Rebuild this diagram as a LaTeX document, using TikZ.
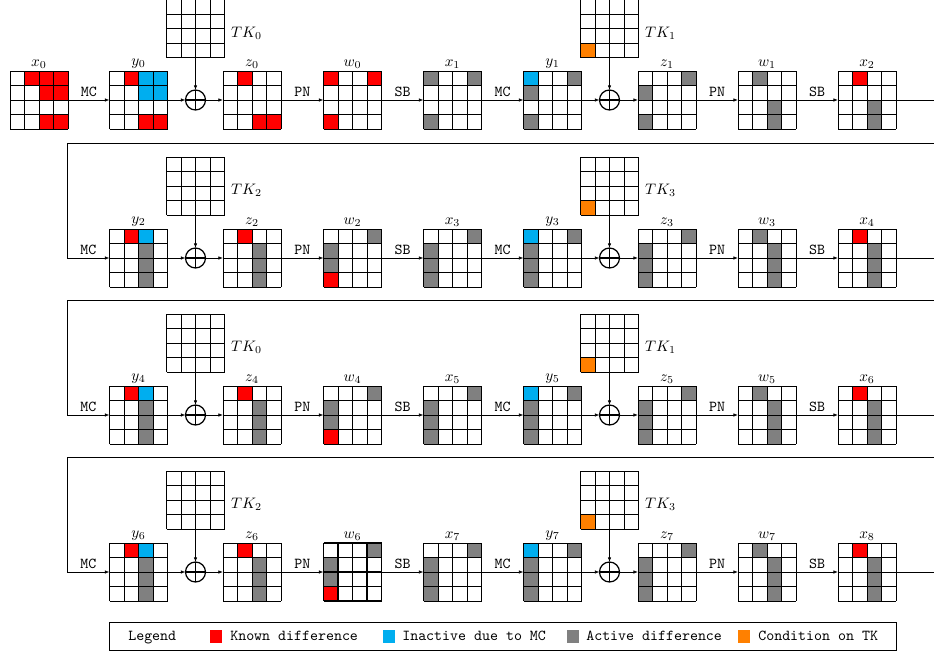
\documentclass[tikz,border=0pt]{standalone}
\usetikzlibrary{arrows.meta,calc}
\definecolor{kred}{RGB}{255,0,0}
\definecolor{kblue}{RGB}{0,174,239}
\definecolor{kgray}{RGB}{128,128,128}
\definecolor{korange}{RGB}{255,128,0}
\tikzset{
  gbox/.style={minimum size=58*0.658pt,inner sep=0pt,outer sep=0pt},
  gline/.style={line width=0.5pt,black},
  xorn/.style={circle,draw,line width=0.8pt,minimum size=20*0.658pt,inner sep=0pt,outer sep=0pt},
  lab/.style={anchor=south,inner sep=1.5pt},
  oplab/.style={above,inner sep=2pt,font=\ttfamily},
  tklab/.style={anchor=west,inner sep=0pt,xshift=4.2pt,yshift=-3pt},
  conn/.style={line width=0.4pt,-{Latex[length=3pt,width=2.2pt]}},
  legsq/.style={minimum width=12*0.658pt,minimum height=13*0.658pt,inner sep=0pt},
  legtxt/.style={anchor=west,inner sep=0pt,font=\ttfamily,text height=1.6ex,text depth=0.3ex}
}
% name, cx, cy, cells
\newcommand\sgrid[5][]{%
  \node[gbox] (#2) at (#3,#4) {};
  \foreach \cc/\rr/\cl in {#5} {
    \fill[\cl] (#3-29+\cc*14.5-14.5, #4-29+\rr*14.5-14.5) rectangle ++(14.5,14.5);
  }
  \foreach \ii in {0,...,4} {
    \draw[gline,#1] (#3-29+\ii*14.5, #4-29) -- ++(0,58);
    \draw[gline,#1] (#3-29, #4-29+\ii*14.5) -- ++(58,0);
  }
}
\newcommand\xorat[3]{%
  \node[xorn] (#1) at (#2,#3) {};
  \draw[line width=0.8pt] (#1.north) -- (#1.south) (#1.west) -- (#1.east);
}
% #1 yc, #2 i, #3 i+1, #4 i+2, #5 tkA, #6 tkB, #7 style of w grid
\newcommand\midrow[7]{%
  \sgrid{y#2}{138.5}{#1}{2/1/kred,3/1/kblue,3/2/kgray,3/3/kgray,3/4/kgray}
  \node[lab] at (y#2.north) {$y_{#2}$};
  \sgrid{tkr#2a}{195.5}{#1-72}{1/1/white}
  \node[tklab] at (tkr#2a.east) {$TK_{#5}$};
  \xorat{pa#2}{195.5}{#1}
  \sgrid{z#2}{252}{#1}{2/1/kred,3/2/kgray,3/3/kgray,3/4/kgray}
  \node[lab] at (z#2.north) {$z_{#2}$};
  \sgrid[#7]{w#2}{352.5}{#1}{4/1/kgray,1/2/kgray,1/3/kgray,1/4/kred}
  \node[lab] at (w#2.north) {$w_{#2}$};
  \sgrid{x#3}{452.5}{#1}{4/1/kgray,1/2/kgray,1/3/kgray,1/4/kgray}
  \node[lab] at (x#3.north) {$x_{#3}$};
  \sgrid{y#3}{552.5}{#1}{1/1/kblue,4/1/kgray,1/2/kgray,1/3/kgray,1/4/kgray}
  \node[lab] at (y#3.north) {$y_{#3}$};
  \sgrid{tkr#2b}{609.5}{#1-72}{1/4/korange}
  \node[tklab] at (tkr#2b.east) {$TK_{#6}$};
  \xorat{pb#2}{609.5}{#1}
  \sgrid{z#3}{667}{#1}{4/1/kgray,1/2/kgray,1/3/kgray,1/4/kgray}
  \node[lab] at (z#3.north) {$z_{#3}$};
  \sgrid{w#3}{767}{#1}{2/1/kgray,3/2/kgray,3/3/kgray,3/4/kgray}
  \node[lab] at (w#3.north) {$w_{#3}$};
  \sgrid{x#4}{867}{#1}{2/1/kred,3/2/kgray,3/3/kgray,3/4/kgray}
  \node[lab] at (x#4.north) {$x_{#4}$};
  \draw[conn] (x#2.east) -- ++(60,0) |- (67,#1-115) -- (67,#1) -- node[oplab]{MC} (y#2);
  \draw[conn] (y#2) -- (pa#2);
  \draw[conn] (tkr#2a) -- (pa#2);
  \draw[conn] (pa#2) -- (z#2);
  \draw[conn] (z#2) -- node[oplab]{PN} (w#2);
  \draw[conn] (w#2) -- node[oplab]{SB} (x#3);
  \draw[conn] (x#3) -- node[oplab]{MC} (y#3);
  \draw[conn] (y#3) -- (pb#2);
  \draw[conn] (tkr#2b) -- (pb#2);
  \draw[conn] (pb#2) -- (z#3);
  \draw[conn] (z#3) -- node[oplab]{PN} (w#3);
  \draw[conn] (w#3) -- node[oplab]{SB} (x#4);
}
\begin{document}
\begin{tikzpicture}[x=0.658pt,y=-0.658pt]
\path[use as bounding box] (0,0) rectangle (934,654);
\clip (0,0) rectangle (934,654);
% ---- row 1 ----
\sgrid{x0}{39}{100}{2/1/kred,3/1/kred,4/1/kred,3/2/kred,4/2/kred,3/4/kred,4/4/kred}
\node[lab] at (x0.north) {$x_0$};
\sgrid{y0}{138.5}{100}{2/1/kred,3/1/kblue,4/1/kblue,3/2/kblue,4/2/kblue,3/4/kred,4/4/kred}
\node[lab] at (y0.north) {$y_0$};
\sgrid{tk0}{195.5}{28.5}{1/1/white}
\node[tklab] at (tk0.east) {$TK_0$};
\xorat{p0}{195.5}{100}
\sgrid{z0}{252}{100}{2/1/kred,3/4/kred,4/4/kred}
\node[lab] at (z0.north) {$z_0$};
\sgrid{w0}{352.5}{100}{1/1/kred,4/1/kred,1/4/kred}
\node[lab] at (w0.north) {$w_0$};
\sgrid{x1}{452.5}{100}{1/1/kgray,4/1/kgray,1/4/kgray}
\node[lab] at (x1.north) {$x_1$};
\sgrid{y1}{552.5}{100}{1/1/kblue,4/1/kgray,1/2/kgray,1/4/kgray}
\node[lab] at (y1.north) {$y_1$};
\sgrid{tk1}{609.5}{28.5}{1/4/korange}
\node[tklab] at (tk1.east) {$TK_1$};
\xorat{p1}{609.5}{100}
\sgrid{z1}{667}{100}{4/1/kgray,1/2/kgray,1/4/kgray}
\node[lab] at (z1.north) {$z_1$};
\sgrid{w1}{767}{100}{2/1/kgray,3/3/kgray,3/4/kgray}
\node[lab] at (w1.north) {$w_1$};
\sgrid{x2}{867}{100}{2/1/kred,3/3/kgray,3/4/kgray}
\node[lab] at (x2.north) {$x_2$};
\draw[conn] (x0) -- node[oplab]{MC} (y0);
\draw[conn] (y0) -- (p0);
\draw[conn] (tk0) -- (p0);
\draw[conn] (p0) -- (z0);
\draw[conn] (z0) -- node[oplab]{PN} (w0);
\draw[conn] (w0) -- node[oplab]{SB} (x1);
\draw[conn] (x1) -- node[oplab]{MC} (y1);
\draw[conn] (y1) -- (p1);
\draw[conn] (tk1) -- (p1);
\draw[conn] (p1) -- (z1);
\draw[conn] (z1) -- node[oplab]{PN} (w1);
\draw[conn] (w1) -- node[oplab]{SB} (x2);
% ---- rows 2-4 ----
\midrow{258}{2}{3}{4}{2}{3}{}
\midrow{415}{4}{5}{6}{0}{1}{}
\midrow{572}{6}{7}{8}{2}{3}{line width=0.8pt}
\coordinate (endr) at (940,572);
\draw[line width=0.4pt] (x8) -- (endr);
% ---- legend ----
\node[draw,line width=0.5pt,minimum width=787*0.658pt,minimum height=28*0.658pt,inner sep=0pt] (leg) at (502.5,636) {};
\node[legtxt] (legt) at (128,636) {Legend};
\node[legsq,fill=kred] (s1) at (216,636) {};
\node[legtxt] (t1) at (230,636) {Known difference};
\node[legsq,fill=kblue] (s2) at (389,636) {};
\node[legtxt] (t2) at (402,636) {Inactive due to MC};
\node[legsq,fill=kgray] (s3) at (573,636) {};
\node[legtxt] (t3) at (586,636) {Active difference};
\node[legsq,fill=korange] (s4) at (744,636) {};
\node[legtxt] (t4) at (758,636) {Condition on TK};
\end{tikzpicture}
\end{document}
